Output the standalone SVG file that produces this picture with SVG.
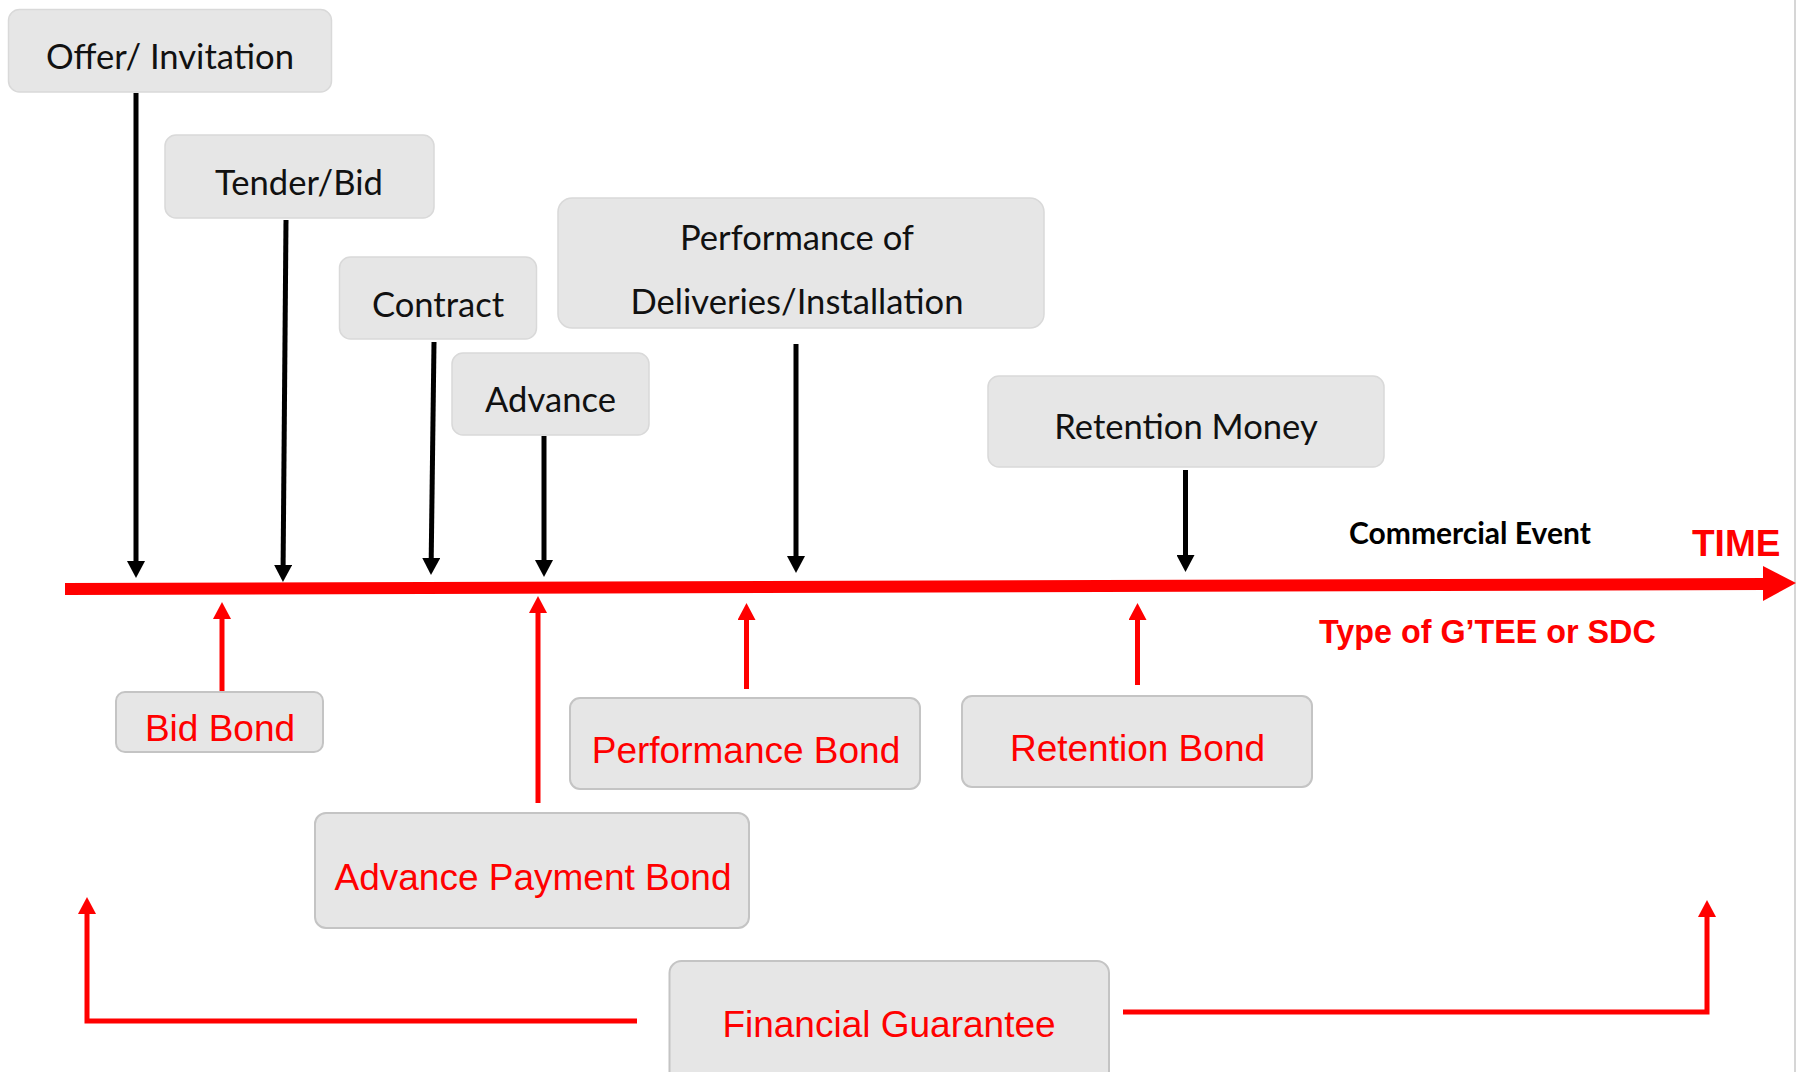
<svg xmlns="http://www.w3.org/2000/svg" width="1796" height="1072" viewBox="0 0 1796 1072">
  <style>
    .evt rect { fill: #e6e6e6; stroke: #d9d9d9; stroke-width: 1.5; }
    .bond rect { fill: #e6e6e6; stroke: #c4c4c4; stroke-width: 2; }
    .evt text { font-family: Lato, "Liberation Sans", sans-serif; font-size: 34.6px; fill: #111; text-anchor: middle; }
    .bond text { font-family: "Liberation Sans", Arial, sans-serif; font-size: 37px; fill: #ff0000; text-anchor: middle; }
    .down { stroke: #000; stroke-width: 5; fill: none; marker-end: url(#headBlack); }
    .up { stroke: #ff0000; stroke-width: 5; fill: none; marker-end: url(#headRed); }
  </style>
  <defs>
    <marker id="headBlack" viewBox="0 -9 17 18" refX="1" refY="0" markerWidth="17" markerHeight="18" markerUnits="userSpaceOnUse" orient="auto">
      <path d="M0,-9 L17,0 L0,9 z" fill="#000"/>
    </marker>
    <marker id="headRed" viewBox="0 -9 17 18" refX="1" refY="0" markerWidth="17" markerHeight="18" markerUnits="userSpaceOnUse" orient="auto">
      <path d="M0,-9 L17,0 L0,9 z" fill="#ff0000"/>
    </marker>
  </defs>

  <rect width="1796" height="1072" fill="#ffffff"/>
  <line x1="1795" y1="0" x2="1795" y2="1072" stroke="#c8c8c8" stroke-width="1.5"/>

  <!-- commercial events (above the time axis) -->
  <g id="offer" class="evt">
    <rect x="8.5" y="9.5" width="323" height="82.5" rx="11"/>
    <text x="170" y="69">Offer/ Invitation</text>
  </g>
  <g id="tender" class="evt">
    <rect x="165" y="135" width="269" height="83" rx="11"/>
    <text x="299" y="195">Tender/Bid</text>
  </g>
  <g id="contract" class="evt">
    <rect x="339.5" y="257" width="197" height="82" rx="11"/>
    <text x="438" y="317">Contract</text>
  </g>
  <g id="advance" class="evt">
    <rect x="452" y="353" width="197" height="82" rx="11"/>
    <text x="550.5" y="412">Advance</text>
  </g>
  <g id="performance" class="evt">
    <rect x="558" y="198" width="486" height="130" rx="14"/>
    <text x="797" y="250">Performance of</text>
    <text x="797" y="314">Deliveries/Installation</text>
  </g>
  <g id="retention-money" class="evt">
    <rect x="988" y="376" width="396" height="91" rx="11"/>
    <text x="1186" y="439">Retention Money</text>
  </g>

  <!-- guarantee types (below the time axis) -->
  <g id="bid-bond" class="bond">
    <rect x="116" y="692" width="207" height="60" rx="9"/>
    <text x="220" y="741">Bid Bond</text>
  </g>
  <g id="performance-bond" class="bond">
    <rect x="570" y="698" width="350" height="91" rx="10"/>
    <text x="746" y="763">Performance Bond</text>
  </g>
  <g id="retention-bond" class="bond">
    <rect x="962" y="696" width="350" height="91" rx="10"/>
    <text x="1137.5" y="761">Retention Bond</text>
  </g>
  <g id="advance-payment-bond" class="bond">
    <rect x="315" y="813" width="434" height="115" rx="11"/>
    <text x="533" y="890">Advance Payment Bond</text>
  </g>
  <g id="financial-guarantee" class="bond">
    <rect x="669.5" y="961" width="439.5" height="130" rx="12"/>
    <text x="889" y="1037">Financial Guarantee</text>
  </g>

  <!-- time axis -->
  <g id="time-axis">
    <line x1="65" y1="589" x2="1765" y2="584" stroke="#ff0000" stroke-width="12"/>
    <polygon points="1763,566 1796,583 1763,601" fill="#ff0000"/>
    <text x="1692" y="556" font-family="'Liberation Sans', Arial, sans-serif" font-weight="bold" font-size="37" fill="#ff0000">TIME</text>
    <text x="1349" y="544" font-family="Lato, 'Liberation Sans', sans-serif" font-weight="bold" font-size="30" fill="#000">Commercial Event</text>
    <text x="1319" y="643" font-family="'Liberation Sans', Arial, sans-serif" font-weight="bold" font-size="32.3" fill="#ff0000">Type of G’TEE or SDC</text>
  </g>

  <!-- connectors -->
  <g id="connectors">
    <line class="down" x1="136" y1="93" x2="136" y2="562"/>
    <line class="down" x1="286" y1="220" x2="283.1" y2="566"/>
    <line class="down" x1="434" y1="342" x2="431.2" y2="559"/>
    <line class="down" x1="544" y1="436" x2="544" y2="561"/>
    <line class="down" x1="796" y1="344" x2="796" y2="557"/>
    <line class="down" x1="1185.5" y1="470" x2="1185.5" y2="556"/>

    <line class="up" x1="222" y1="691" x2="222" y2="618"/>
    <line class="up" x1="538" y1="803" x2="538" y2="612"/>
    <line class="up" x1="746.5" y1="689" x2="746.5" y2="619"/>
    <line class="up" x1="1137.5" y1="685" x2="1137.5" y2="619"/>
    <polyline class="up" points="637,1021 87,1021 87,913"/>
    <polyline class="up" points="1123,1012 1707,1012 1707,916"/>
  </g>
</svg>
